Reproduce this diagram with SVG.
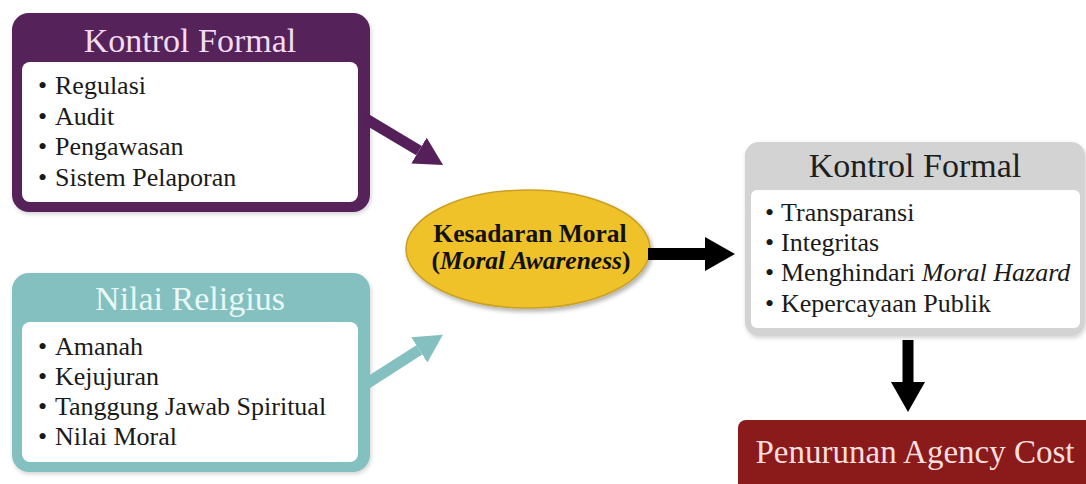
<svg xmlns="http://www.w3.org/2000/svg" width="1086" height="484" viewBox="0 0 1086 484">
  <defs>
    <filter id="sh" x="-10%" y="-10%" width="130%" height="130%">
      <feDropShadow dx="2" dy="3" stdDeviation="2" flood-color="#000" flood-opacity="0.3"/>
    </filter>
    <filter id="shl" x="-10%" y="-10%" width="130%" height="130%">
      <feDropShadow dx="1" dy="2" stdDeviation="2" flood-color="#000" flood-opacity="0.18"/>
    </filter>
    <marker id="hPurple" markerUnits="userSpaceOnUse" viewBox="0 0 28 30" refX="0" refY="15" markerWidth="28" markerHeight="30" orient="auto">
      <path d="M0,0 L28,15 L0,30 Z" fill="#55205a"/>
    </marker>
    <marker id="hTeal" markerUnits="userSpaceOnUse" viewBox="0 0 28 30" refX="0" refY="15" markerWidth="28" markerHeight="30" orient="auto">
      <path d="M0,0 L28,15 L0,30 Z" fill="#84c0bf"/>
    </marker>
    <marker id="hBlack" markerUnits="userSpaceOnUse" viewBox="0 0 30 34" refX="0" refY="17" markerWidth="30" markerHeight="34" orient="auto">
      <path d="M0,0 L30,17 L0,34 Z" fill="#000"/>
    </marker>
  </defs>
  <style>
    .title { font-size: 34px; text-anchor: middle; }
    .item { font-size: 26px; fill: #1a1a1a; }
    .inner { fill: #ffffff; }
    .conn { fill: none; }
  </style>
  <rect width="1086" height="484" fill="#ffffff"/>

  <g font-family="Liberation Serif, serif">
  <g id="kontrol-formal-1">
    <rect x="12" y="13" width="358" height="199" rx="17" fill="#55205a" filter="url(#shl)"/>
    <rect class="inner" x="22" y="62" width="336" height="140" rx="8"/>
    <text class="title" x="190" y="52" fill="#f3dcf0">Kontrol Formal</text>
    <text class="item" x="38" y="94">•</text><text class="item" x="55" y="94">Regulasi</text>
    <text class="item" x="38" y="124.5">•</text><text class="item" x="55" y="124.5">Audit</text>
    <text class="item" x="38" y="155">•</text><text class="item" x="55" y="155">Pengawasan</text>
    <text class="item" x="38" y="185.5">•</text><text class="item" x="55" y="185.5">Sistem Pelaporan</text>
  </g>

  <g id="nilai-religius">
    <rect x="12" y="273" width="358" height="199" rx="17" fill="#84c0bf" filter="url(#shl)"/>
    <rect class="inner" x="22" y="322" width="336" height="140" rx="8"/>
    <text class="title" x="190" y="310" fill="#e8f8f6">Nilai Religius</text>
    <text class="item" x="38" y="355">•</text><text class="item" x="55" y="355">Amanah</text>
    <text class="item" x="38" y="385">•</text><text class="item" x="55" y="385">Kejujuran</text>
    <text class="item" x="38" y="415">•</text><text class="item" x="55" y="415">Tanggung Jawab Spiritual</text>
    <text class="item" x="38" y="445">•</text><text class="item" x="55" y="445">Nilai Moral</text>
  </g>

  <g id="kesadaran-moral">
    <ellipse cx="528" cy="249" rx="122" ry="59" fill="#efc22c" stroke="#c9a021" stroke-width="1.5" filter="url(#sh)"/>
    <text x="530" y="242" text-anchor="middle" font-size="25.5" font-weight="bold" fill="#111">Kesadaran Moral</text>
    <text x="531" y="269" text-anchor="middle" font-size="25.5" font-weight="bold" fill="#111">(<tspan font-style="italic">Moral Awareness</tspan>)</text>
  </g>

  <g id="kontrol-formal-2">
    <rect x="745" y="142" width="340" height="194" rx="14" fill="#d3d3d3" filter="url(#shl)"/>
    <rect class="inner" x="751" y="190" width="329" height="138" rx="6"/>
    <text class="title" x="915" y="177" fill="#1e1e1e">Kontrol Formal</text>
    <text class="item" x="765" y="221">•</text><text class="item" x="781" y="221">Transparansi</text>
    <text class="item" x="765" y="251">•</text><text class="item" x="781" y="251">Integritas</text>
    <text class="item" x="765" y="281">•</text><text class="item" x="781" y="281">Menghindari <tspan font-style="italic">Moral Hazard</tspan></text>
    <text class="item" x="765" y="312">•</text><text class="item" x="781" y="312">Kepercayaan Publik</text>
  </g>

  <g id="penurunan-agency-cost">
    <rect x="738" y="420" width="370" height="80" rx="8" fill="#8b1a1a"/>
    <text x="915" y="463" text-anchor="middle" font-size="33" fill="#f7dede">Penurunan Agency Cost</text>
  </g>
  </g>

  <g id="connectors">
    <line class="conn" x1="366" y1="119" x2="419" y2="150.6" stroke="#55205a" stroke-width="11" marker-end="url(#hPurple)"/>
    <line class="conn" x1="366" y1="384" x2="419.3" y2="349.9" stroke="#84c0bf" stroke-width="11" marker-end="url(#hTeal)"/>
    <line class="conn" x1="648" y1="254" x2="705" y2="254" stroke="#000" stroke-width="12" marker-end="url(#hBlack)"/>
    <line class="conn" x1="908" y1="340" x2="908" y2="382" stroke="#000" stroke-width="11" marker-end="url(#hBlack)"/>
  </g>
</svg>
